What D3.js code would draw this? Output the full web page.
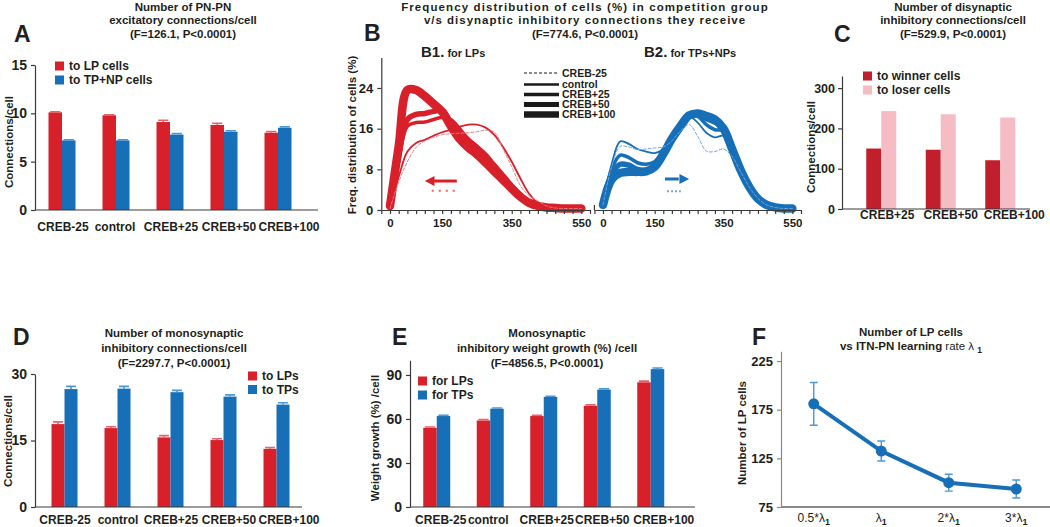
<!DOCTYPE html>
<html><head><meta charset="utf-8">
<script src="https://cdn.jsdelivr.net/npm/d3@7/dist/d3.min.js"></script>
<style>
body{margin:0;background:#fff}
svg text{font-family:"Liberation Sans",Arial,Helvetica,sans-serif;font-weight:bold;fill:#231f20}
</style></head><body>
<svg id="fig" width="1050" height="527"></svg>
<script>
// ================= DATA =================
const groups5 = ["CREB-25","control","CREB+25","CREB+50","CREB+100"];
const groups3 = ["CREB+25","CREB+50","CREB+100"];

// Panel A
const aToLP = [10.1, 9.8, 9.1, 8.8, 8.0];
const aToLPErr = [0.05, 0.05, 0.18, 0.18, 0.12];
const aToTP = [7.2, 7.2, 7.8, 8.1, 8.5];
const aToTPErr = [0.05, 0.05, 0.1, 0.1, 0.1];
const aTicks = [0, 5, 10, 15];

// Panel C
const cWinner = [150, 147, 121];
const cLoser = [243, 235, 227];
const cTicks = [0, 100, 200, 300];

// Panel D
const dLP = [18.7, 17.8, 15.7, 15.1, 13.1];
const dLPErr = [0.5, 0.3, 0.4, 0.3, 0.3];
const dTP = [26.6, 26.7, 25.9, 24.9, 23.1];
const dTPErr = [0.6, 0.5, 0.4, 0.4, 0.4];
const dTicks = [0, 15, 30];

// Panel E
const eLP = [54, 59, 62, 69, 85];
const eLPErr = [0.5, 0.6, 0.5, 0.6, 0.8];
const eTP = [62, 67, 75, 80, 94];
const eTPErr = [0.5, 0.5, 0.5, 0.5, 0.8];
const eTicks = [0, 30, 60, 90];

// Panel B (frequency distributions, x = disynaptic inhibitory connections)
const bBins = [0,25,50,75,100,125,150,175,200,225,250,275,300,325,350,375,400,425,450,475,500,525,550];
const bNames = ["CREB-25","control","CREB+25","CREB+50","CREB+100"];
const b1CrebM25 = [0.3,5.5,9.5,12.3,13.6,14.3,14.8,15.0,15.1,15.2,15.4,15.7,15.3,12.0,8.5,4.8,2.8,1.8,0.8,0.4,0.3,0.3,0.3];
const b1Control = [0.5,6.5,11.5,13.2,13.8,14.6,15.3,15.8,16.4,16.8,16.8,16.2,14.8,12.4,9.5,6.2,3.2,1.4,0.6,0.4,0.3,0.3,0.3];
const b1Creb25  = [0.5,10,16.5,17.2,17.3,17.8,18.2,17.8,16.0,14.0,12.5,11.0,9.0,7.0,5.0,3.0,1.6,0.8,0.5,0.4,0.3,0.3,0.3];
const b1Creb50  = [0.5,10.5,17.8,18.8,19.0,19.4,19.6,17.2,15.0,13.6,12.3,10.6,8.5,6.5,4.5,2.8,1.5,0.8,0.5,0.4,0.3,0.3,0.3];
const b1Creb100 = [0.8,12.5,23.6,23.6,22.4,20.9,19.3,16.5,14.0,12.3,10.9,9.3,7.6,5.9,4.2,2.6,1.4,0.8,0.5,0.4,0.3,0.3,0.3];
const b2CrebM25 = [1,8.5,12.5,12.4,11.9,12.0,12.2,12.4,13.6,15.5,16.8,14.5,11.6,11.5,12.0,10.5,7.5,4.5,2.3,1.0,0.5,0.3,0.3];
const b2Control = [1,9.0,13.5,13.0,12.0,11.5,11.2,12.0,14.5,17.0,18.3,17.2,15.2,14.3,14.6,12.3,7.8,4.5,2.2,1.0,0.5,0.3,0.3];
const b2Creb25  = [1,8.0,10.8,10.3,9.3,9.0,9.5,11.5,14.3,16.8,18.6,18.4,16.8,15.8,15.6,12.5,7.8,4.5,2.2,1.0,0.5,0.3,0.3];
const b2Creb50  = [1,7.0,9.0,8.8,8.0,7.8,8.5,11.0,14.0,16.5,18.6,19.0,18.0,17.3,16.0,12.0,7.8,4.5,2.2,1.0,0.5,0.3,0.3];
const b2Creb100 = [1,6.0,7.3,7.5,7.5,7.6,8.5,11.0,14.0,16.5,18.6,19.0,18.5,17.8,16.0,12.0,7.8,4.5,2.2,1.0,0.5,0.3,0.3];
const bYTicks = [0, 8, 16, 24];
const bXLabels = [0, 150, 350, 550];

// Panel F
const fRates = ["0.5*λ", "λ", "2*λ", "3*λ"];
const fLP = [181, 132.5, 100, 93.5];
const fErr = [22, 10.3, 8.7, 9.2];
const fTicks = [75, 125, 175, 225];

// ================= STYLE =================
const RED = "#d7202a", RED_E = "#e8646c";
const BLUE = "#176fb8", BLUE_E = "#4d98d6";
const DRED = "#c11f2b", PINK = "#f6bcc3";
const AX = "#3a3a3a";

const svg = d3.select("#fig");

function txt(g, x, y, s, size, anchor = "middle", weight = "bold") {
  return g.append("text").attr("x", x).attr("y", y).attr("text-anchor", anchor)
    .style("font-size", size + "px").style("font-weight", weight).text(s);
}
function title(lines, cx, ys, size = 11.5, spacing) {
  lines.forEach((l, i) => {
    const t = txt(svg, cx, ys[i], l, size);
    if (spacing && spacing[i]) t.style("letter-spacing", spacing[i] + "px");
  });
}
function letter(s, x, y) { txt(svg, x, y, s, 23, "start"); }
function yTitle(s, x, cy, size = 11.5) {
  svg.append("text").attr("transform", `translate(${x},${cy}) rotate(-90)`)
    .attr("text-anchor", "middle").attr("dy", "0.35em").style("font-size", size + "px").text(s);
}
function legend(x, ys, items, sq = 9, size = 12) {
  items.forEach((it, i) => {
    svg.append("rect").attr("x", x).attr("y", ys[i] - sq / 2).attr("width", sq).attr("height", sq).attr("fill", it.color);
    txt(svg, x + sq + 5, ys[i] + 4.2, it.label, size, "start");
  });
}

function barPanel(o) {
  const g = svg.append("g");
  const y = d3.scaleLinear().domain([0, o.yMax]).range([o.y0, o.yTop]);
  const x = d3.scalePoint().domain(o.groups).range(o.xRange).padding(0.5);
  const n = o.series.length;
  o.series.forEach((s, si) => {
    const off = (si - n / 2) * o.barW;
    const gs = g.append("g");
    gs.selectAll("rect").data(s.vals).join("rect")
      .attr("x", (d, i) => x(o.groups[i]) + off).attr("y", d => y(d))
      .attr("width", o.barW).attr("height", d => y(0) - y(d)).attr("fill", s.color);
    if (s.errs) {
      gs.selectAll("path").data(s.vals).join("path")
        .attr("d", (d, i) => {
          const c = x(o.groups[i]) + off + o.barW / 2, t = y(d + s.errs[i]), b = y(d), w = o.barW * 0.38;
          return `M${c},${b}V${t}M${c - w},${t}H${c + w}`;
        })
        .attr("stroke", s.ecolor).attr("stroke-width", 1.6).attr("fill", "none");
    }
  });
  g.append("g").attr("transform", `translate(${o.xAxis0},0)`)
    .call(d3.axisLeft(y).tickValues(o.ticks).tickSize(4).tickSizeOuter(0).tickPadding(o.tickPad || 4).tickFormat(d3.format("d")))
    .call(ax => {
      ax.selectAll("text").style("font-size", (o.tickFont || 14) + "px");
      ax.selectAll("path,line").attr("stroke", AX).attr("stroke-width", 1.2);
    });
  g.append("line").attr("x1", o.xAxis0).attr("x2", o.xAxis1).attr("y1", y(0)).attr("y2", y(0))
    .attr("stroke", AX).attr("stroke-width", 1.2);
  g.selectAll("text.xl").data(o.groups).join("text").attr("class", "xl")
    .attr("x", (d, i) => x(d) + (o.labelShift ? o.labelShift[i] : 0)).attr("y", o.labelY)
    .attr("text-anchor", "middle").style("font-size", "12px").text(d => d);
  return { x, y, g };
}

// ================= PANEL A =================
letter("A", 14, 42);
title(["Number of PN-PN", "excitatory connections/cell", "(F=126.1, P<0.0001)"], 183, [11, 24, 38]);
barPanel({
  groups: groups5, yMax: 15, y0: 210, yTop: 65, xRange: [35, 305], barW: 13.5,
  xAxis0: 35, xAxis1: 318, ticks: aTicks, labelY: 231, labelShift: [1, -1, 1, 5, 11],
  series: [{ vals: aToLP, errs: aToLPErr, color: RED, ecolor: RED_E },
           { vals: aToTP, errs: aToTPErr, color: BLUE, ecolor: BLUE_E }]
});
yTitle("Connections/cell", 9, 142);
legend(55, [66, 80], [{ label: "to LP cells", color: RED }, { label: "to TP+NP cells", color: BLUE }]);

// ================= PANEL B =================
letter("B", 364, 41);
title(["Frequency distribution of cells (%) in competition group",
       "v/s disynaptic inhibitory connections they receive", "(F=774.6, P<0.0001)"], 585, [11, 24, 38], 11.5, [1.1, 1.0, 0]);
{
  const by = d3.scaleLinear().domain([0, 30]).range([210, 57.5]);
  const bx1 = d3.scaleLinear().domain([-25, 575]).range([381.3, 590]);
  const bx2 = d3.scaleLinear().domain([-25, 575]).range([594.4, 801]);
  const widths = [1, 1.8, 3.6, 5.5, 8.5];
  const sets = [
    { sx: bx1, color: RED, light: "#ea7b82", series: [b1CrebM25, b1Control, b1Creb25, b1Creb50, b1Creb100] },
    { sx: bx2, color: BLUE, light: "#6ea6dc", series: [b2CrebM25, b2Control, b2Creb25, b2Creb50, b2Creb100] }
  ];
  sets.forEach((st, k) => {
    const g = svg.append("g");
    const line = d3.line().x((d, i) => st.sx(bBins[i])).y(d => by(d)).curve(d3.curveCatmullRom.alpha(0.5));
    for (let si = st.series.length - 1; si >= 0; si--) {
      g.append("path").attr("d", line(st.series[si])).attr("fill", "none")
        .attr("stroke", si === 0 ? st.light : st.color).attr("stroke-width", widths[si])
        .attr("stroke-linecap", "round").attr("stroke-linejoin", "round")
        .attr("stroke-dasharray", si === 0 ? "3,2" : null);
    }
    g.append("g").attr("transform", "translate(0,210)")
      .call(d3.axisBottom(st.sx).tickValues(d3.range(-25, 576, 25)).tickSize(4).tickSizeOuter(0).tickPadding(5)
        .tickFormat(d => bXLabels.includes(d) ? d : ""))
      .call(ax => {
        ax.selectAll("text").style("font-size", "11.5px");
        ax.selectAll("path,line").attr("stroke", AX).attr("stroke-width", 1.2);
      });
    if (k === 0) {
      g.append("g").attr("transform", `translate(${st.sx(-25)},0)`)
        .call(d3.axisLeft(by).tickValues(bYTicks).tickSize(4).tickSizeOuter(0).tickPadding(4))
        .call(ax => {
          ax.selectAll("text").style("font-size", "13px");
          ax.selectAll("path,line").attr("stroke", AX).attr("stroke-width", 1.2);
        });
    } else {
      g.append("line").attr("x1", st.sx(-25)).attr("x2", st.sx(-25)).attr("y1", 210).attr("y2", 205)
        .attr("stroke", AX).attr("stroke-width", 1.2);
    }
  });
  // arrows (shift direction)
  const ay = by(5.7), dy = by(3.8);
  svg.append("line").attr("x1", bx1(192)).attr("x2", bx1(125)).attr("y1", ay).attr("y2", ay).attr("stroke", RED).attr("stroke-width", 3);
  svg.append("path").attr("d", `M${bx1(100)},${ay}L${bx1(128)},${ay - 5}L${bx1(128)},${ay + 5}Z`).attr("fill", RED);
  svg.append("line").attr("x1", bx1(120)).attr("x2", bx1(195)).attr("y1", dy).attr("y2", dy).attr("stroke", "#e8646c").attr("stroke-width", 2).attr("stroke-dasharray", "2,5");
  const ay2 = by(6.1), dy2 = by(3.7);
  svg.append("line").attr("x1", bx2(180)).attr("x2", bx2(220)).attr("y1", ay2).attr("y2", ay2).attr("stroke", BLUE).attr("stroke-width", 3);
  svg.append("path").attr("d", `M${bx2(250)},${ay2}L${bx2(222)},${ay2 - 5}L${bx2(222)},${ay2 + 5}Z`).attr("fill", BLUE);
  svg.append("line").attr("x1", bx2(186)).attr("x2", bx2(226)).attr("y1", dy2).attr("y2", dy2).attr("stroke", "#6ea6dc").attr("stroke-width", 2).attr("stroke-dasharray", "2,2");

  // legend
  const legW = [1, 2.5, 3.6, 5, 6.5];
  const legY = [73, 84.5, 94.5, 104.5, 114.5];
  bNames.forEach((nm, i) => {
    svg.append("line").attr("x1", 524).attr("x2", 559).attr("y1", legY[i]).attr("y2", legY[i])
      .attr("stroke", "#1a1a1a").attr("stroke-width", legW[i]).attr("stroke-dasharray", i === 0 ? "3,2" : null);
    txt(svg, 562, legY[i] + 3.6, nm, 10.5, "start");
  });
  const t1 = svg.append("text").attr("x", 421).attr("y", 57);
  t1.append("tspan").style("font-size", "15px").text("B1.");
  t1.append("tspan").style("font-size", "11px").text(" for LPs");
  const t2 = svg.append("text").attr("x", 644).attr("y", 57);
  t2.append("tspan").style("font-size", "15px").text("B2.");
  t2.append("tspan").style("font-size", "11px").text(" for TPs+NPs");
  yTitle("Freq. distribution of cells (%)", 352, 135, 11.5);
}

// ================= PANEL C =================
letter("C", 834, 42);
title(["Number of disynaptic", "inhibitory connections/cell", "(F=529.9, P<0.0001)"], 953, [11, 24, 38]);
barPanel({
  groups: groups3, yMax: 330, y0: 209, yTop: 76, xRange: [851.5, 1030], barW: 15,
  xAxis0: 842, xAxis1: 1030, ticks: cTicks, labelY: 219, labelShift: [6, 10, 14], tickFont: 12.5, tickPad: 3,
  series: [{ vals: cWinner, color: DRED }, { vals: cLoser, color: PINK }]
});
yTitle("Connections/cell", 811, 147);
legend(863, [76, 90], [{ label: "to winner cells", color: DRED }, { label: "to loser cells", color: PINK }]);

// ================= PANEL D =================
letter("D", 13, 345);
title(["Number of monosynaptic", "inhibitory connections/cell", "(F=2297.7, P<0.0001)"], 174, [337, 352, 367]);
barPanel({
  groups: groups5, yMax: 30, y0: 507, yTop: 374, xRange: [38, 303], barW: 13,
  xAxis0: 35, xAxis1: 302, ticks: dTicks, labelY: 524, labelShift: [0.5, 0.5, 0.5, 5.5, 12.5],
  series: [{ vals: dLP, errs: dLPErr, color: RED, ecolor: RED_E },
           { vals: dTP, errs: dTPErr, color: BLUE, ecolor: BLUE_E }]
});
yTitle("Connections/cell", 8, 441);
legend(248, [376, 389.5], [{ label: "to LPs", color: RED }, { label: "to TPs", color: BLUE }]);

// ================= PANEL E =================
letter("E", 392, 345);
title(["Monosynaptic", "inhibitory weight growth (%) /cell", "(F=4856.5, P<0.0001)"], 547, [337, 352, 367]);
barPanel({
  groups: groups5, yMax: 100, y0: 507, yTop: 360.3, xRange: [410, 677.5], barW: 13.5,
  xAxis0: 410, xAxis1: 695, ticks: eTicks, labelY: 524, labelShift: [4, -2, 3, 5, 13],
  series: [{ vals: eLP, errs: eLPErr, color: RED, ecolor: RED_E },
           { vals: eTP, errs: eTPErr, color: BLUE, ecolor: BLUE_E }]
});
yTitle("Weight growth (%) /cell", 375, 438);
legend(418, [381, 395], [{ label: "for LPs", color: RED }, { label: "for TPs", color: BLUE }]);

// ================= PANEL F =================
letter("F", 752, 345);
{
  txt(svg, 911, 336, "Number of LP cells", 11.5);
  const t2 = svg.append("text").attr("x", 911).attr("y", 350).attr("text-anchor", "middle").style("font-size", "11.5px");
  t2.append("tspan").text("vs ITN-PN learning ");
  t2.append("tspan").style("font-weight", "normal").text("rate λ ");
  t2.append("tspan").attr("dy", 3).style("font-size", "8.5px").text("1");

  const fy = d3.scaleLinear().domain([75, 235]).range([507, 351.3]);
  const fx = d3.scalePoint().domain(fRates).range([780, 1050]).padding(0.5);
  const g = svg.append("g");
  g.append("g").attr("transform", "translate(781,0)")
    .call(d3.axisLeft(fy).tickValues(fTicks).tickSize(4).tickSizeOuter(0).tickPadding(4))
    .call(ax => {
      ax.selectAll("text").style("font-size", "13px");
      ax.selectAll("path,line").attr("stroke", "#888").attr("stroke-width", 1.2);
    });
  g.append("line").attr("x1", 781).attr("x2", 1050).attr("y1", 507).attr("y2", 507).attr("stroke", "#888").attr("stroke-width", 1.8);
  g.selectAll("path.eb").data(fLP).join("path").attr("class", "eb")
    .attr("d", (d, i) => {
      const c = fx(fRates[i]), t = fy(d + fErr[i]), b = fy(d - fErr[i]);
      return `M${c},${b}V${t}M${c - 4},${t}H${c + 4}M${c - 4},${b}H${c + 4}`;
    }).attr("stroke", BLUE_E).attr("stroke-width", 1.4).attr("fill", "none");
  g.append("path").datum(fLP)
    .attr("d", d3.line().x((d, i) => fx(fRates[i])).y(d => fy(d)))
    .attr("fill", "none").attr("stroke", BLUE).attr("stroke-width", 4);
  g.selectAll("circle").data(fLP).join("circle")
    .attr("cx", (d, i) => fx(fRates[i])).attr("cy", d => fy(d)).attr("r", 5.5).attr("fill", BLUE);
  fRates.forEach(r => {
    const t = svg.append("text").attr("x", fx(r)).attr("y", 522).attr("text-anchor", "middle").style("font-size", "12px").style("font-weight", "normal");
    t.append("tspan").text(r);
    t.append("tspan").attr("dy", 3).style("font-size", "9px").style("font-weight", "bold").text("1");
  });
  yTitle("Number of LP cells", 742, 433);
}
</script>
</body></html>
